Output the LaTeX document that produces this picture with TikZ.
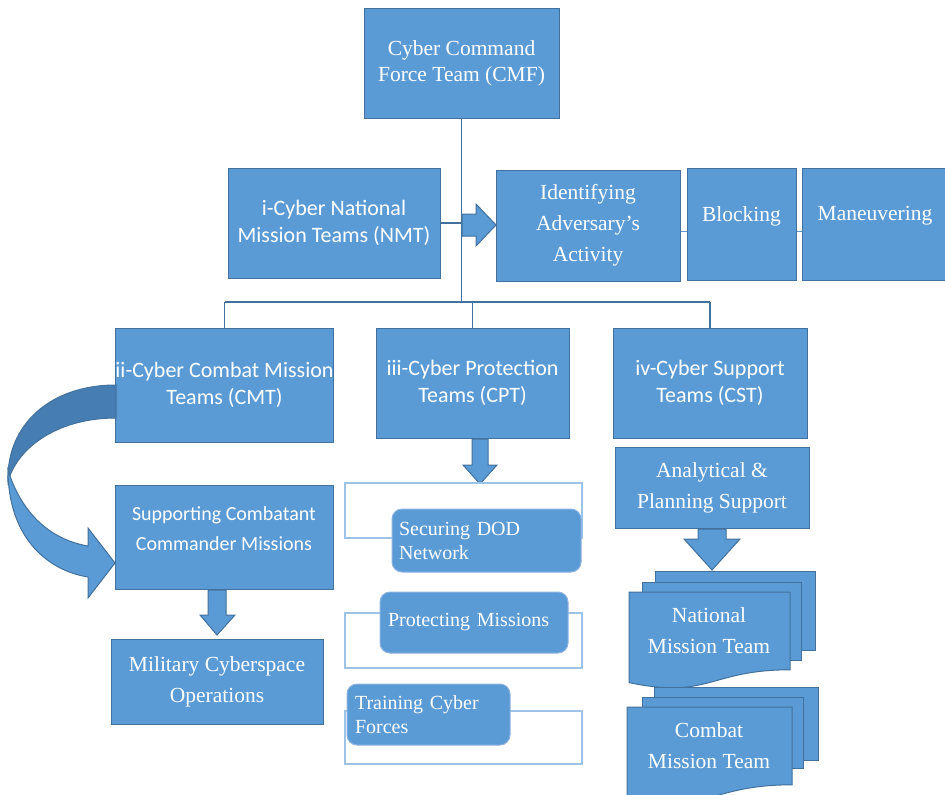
\documentclass[tikz,border=0pt]{standalone}
\usepackage{fontspec}
\setmainfont{Liberation Serif}
\newfontfamily\calfont{Carlito}
\definecolor{bfill}{HTML}{5B9BD5}
\definecolor{bline}{HTML}{41719C}
\definecolor{bdark}{HTML}{467DB2}
\definecolor{olight}{HTML}{9DC3E6}
\definecolor{rline}{HTML}{8DB3E2}
\begin{document}
\begin{tikzpicture}[x=1pt,y=-1pt,
 bx/.style={draw=bline, line width=1pt, fill=bfill, text=white, inner sep=0pt, align=center},
 tms/.style={font=\fontsize{21.5}{31}\selectfont},
 tmsb/.style={font=\fontsize{21.5}{26}\selectfont},
 cal/.style={font=\calfont\fontsize{22}{27}\selectfont},
 cals/.style={font=\calfont\fontsize{20}{30}\selectfont},
 conn/.style={draw=bline, line width=1.5pt},
 thinconn/.style={draw=bfill, line width=1pt},
 barrow/.style={draw=bline, line width=1pt, fill=bfill},
 outl/.style={draw=olight, line width=1.5pt, fill=white},
 rbox/.style={draw=rline, line width=1pt, fill=bfill, rounded corners=10pt, text=white, align=left, inner ysep=0pt, font=\fontsize{20}{24}\selectfont},
 doc/.style={draw=bline, line width=1pt, fill=bfill},
 lbl/.style={text=white, align=center}
]
\useasboundingbox[fill=white] (0,0) rectangle (945,795);

% top level
\node[bx, tmsb, minimum width=195pt, minimum height=110pt] (cmf) at (461.5,63) {Cyber Command\\Force Team (CMF)};
\node[bx, cal, minimum width=212pt, minimum height=110pt] (nmt) at (334,223) {i-Cyber National\\Mission Teams (NMT)};
\node[bx, tms, minimum width=184pt, minimum height=111pt] (ida) at (588,225.5) {Identifying\\Adversary’s\\Activity};
\node[bx, minimum width=109pt, minimum height=112pt, label={[lbl,tms,yshift=8pt]center:Blocking}] (blk) at (741.5,224) {};
\node[bx, minimum width=146pt, minimum height=112pt, label={[lbl,tms,yshift=8pt]center:Maneuvering}] (man) at (875,224) {};

% second level
\node[bx, cal, minimum width=217pt, minimum height=114pt] (cmt) at (224.5,385) {ii-Cyber Combat Mission\\Teams (CMT)};
\node[bx, cal, minimum width=193pt, minimum height=110pt] (cpt) at (472.5,383) {iii-Cyber Protection\\Teams (CPT)};
\node[bx, cal, minimum width=194pt, minimum height=110pt] (cst) at (710,383) {iv-Cyber Support\\Teams (CST)};

% connectors
\coordinate (jL) at (224.5,302);
\coordinate (jR) at (710,302);
\draw[conn] (cmf.south) -- (cmf.south |- jL);
\draw[conn] (nmt.east) -- (nmt.east -| cmf.south);
\draw[conn] (jL) -- (jR);
\draw[conn] (jL) -- (cmt.north);
\draw[conn] (cpt.north |- jL) -- (cpt.north);
\draw[conn] (jR) -- (cst.north);
\draw[thinconn] ([yshift=-5.5pt]ida.east) -- ([yshift=-5.5pt]ida.east -| blk.west);
\draw[thinconn] ([yshift=-7pt]blk.east) -- ([yshift=-7pt]blk.east -| man.west);

% block arrow to Identifying
\draw[barrow] (462,214) -- (476,214) -- (476,204) -- (496,225) -- (476,246) -- (476,236) -- (462,236) -- cycle;

% CMT branch
\node[bx, minimum width=218pt, minimum height=104pt, label={[lbl,cals,yshift=8.5pt]center:Supporting Combatant\\Commander Missions}] (scc) at (224,537) {};
\node[bx, tms, minimum width=212pt, minimum height=85pt] (mco) at (217,681.5) {Military Cyberspace\\Operations};
\draw[barrow] (208,590) -- (226,590) -- (226,615) -- (235,615) -- (217,635) -- (200,615) -- (208,615) -- cycle;

% curved arrow
\fill[bdark, draw=bline, line width=1pt] (116,385) .. controls (50,385) and (6,425) .. (8,482) .. controls (16,450) and (55,418) .. (116,418) -- cycle;
\fill[bfill, draw=bline, line width=1pt] (8,470) .. controls (8,535) and (45,570) .. (88,577) -- (88,598) -- (115,563) -- (88,528) -- (88,546) .. controls (52,540) and (22,515) .. (8,470) -- cycle;

% CPT branch
\draw[barrow] (472,439) -- (488,439) -- (488,465) -- (497,465) -- (480,484) -- (463,465) -- (472,465) -- cycle;
\draw[outl] (345,483) rectangle (582,538);
\node[rbox, minimum width=189pt, minimum height=63pt, inner xsep=7pt, text width=175pt] (sec) at (486.5,540.5) {Securing DOD\\Network};
\draw[outl] (345,613) rectangle (582,668);
\node[rbox, minimum width=188pt, minimum height=61pt, inner xsep=8pt, text width=172pt] (pro) at (474,622.5) {Protecting Missions};
\draw[outl] (345,711) rectangle (582,764);
\node[rbox, minimum width=163pt, minimum height=61pt, inner xsep=8pt, text width=147pt] (tra) at (428.5,714.5) {Training Cyber\\Forces};

% CST branch
\node[bx, tms, minimum width=194pt, minimum height=81pt] (ana) at (712,487.5) {Analytical \&\\Planning Support};
\draw[barrow] (698,529) -- (726,529) -- (726,539) -- (740,539) -- (712,570) -- (684,539) -- (698,539) -- cycle;

% National Mission Team multidocument
\draw[doc] (655,571) rectangle (815,650);
\draw[doc] (642,582) rectangle (801,660);
\draw[doc] (629,592) -- (790,592) -- (790,669.8) .. controls (709.5,669.8) and (709.5,699.4) .. (629,682.6) -- cycle;
\node[lbl, tms] (nmteam) at (709,631) {National\\Mission Team};

% Combat Mission Team multidocument
\draw[doc] (654,687) rectangle (818,760);
\draw[doc] (642,697) rectangle (803,768);
\draw[doc] (627,707) -- (792,707) -- (792,784.8) .. controls (709.5,784.8) and (709.5,814.4) .. (627,797.6) -- cycle;
\node[lbl, tms] (cmteam) at (709,745.5) {Combat\\Mission Team};
\end{tikzpicture}
\end{document}
